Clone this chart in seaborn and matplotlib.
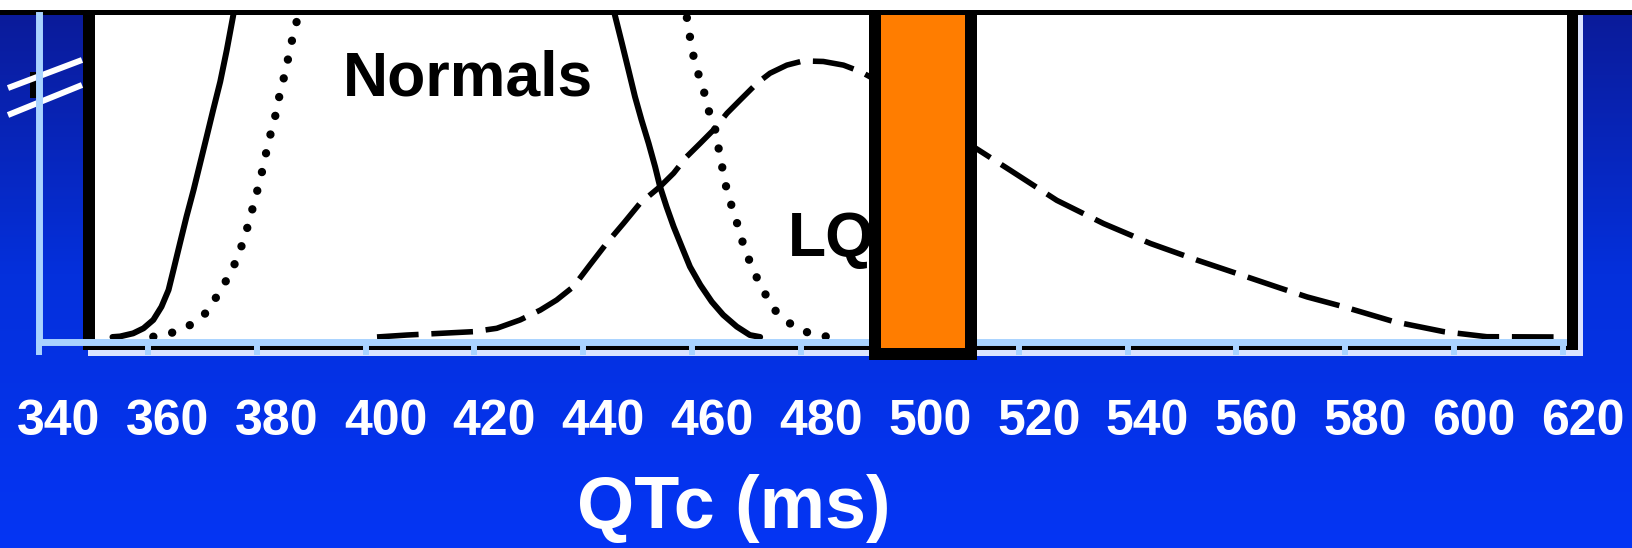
import matplotlib
matplotlib.use("Agg")
import numpy as np
import matplotlib.pyplot as plt
import matplotlib.transforms as mtransforms
from matplotlib.patches import Rectangle
from matplotlib.colors import LinearSegmentedColormap
import seaborn as sns

# QTc distributions, heights in arbitrary units (normals run off the top, axis is broken)
SOLID_X = [353.5, 354.9, 357.3, 359.2, 361.0, 362.5, 363.8, 364.7, 365.9, 367.1, 368.4, 369.6,
           370.8, 372.0, 373.3, 374.5, 375.7, 378.0, 410.0, 442.0,
           445.8, 447.1, 448.3, 449.5, 450.7, 452.0, 453.2, 454.1, 455.3, 456.6, 458.1, 459.6,
           461.5, 463.6, 465.7, 468.2, 470.6, 472.5]
SOLID_Y = [0.0, 0.002, 0.013, 0.031, 0.061, 0.108, 0.168, 0.239, 0.335, 0.430, 0.525, 0.620,
           0.715, 0.811, 0.912, 1.025, 1.15, 1.40, 3.50, 1.48,
           1.15, 1.049, 0.954, 0.858, 0.775, 0.692, 0.608, 0.537, 0.465, 0.394, 0.322, 0.251,
           0.186, 0.126, 0.079, 0.037, 0.007, 0.0]

DOTTED_X = [361.0, 365.3, 368.4, 370.9, 373.0, 374.8, 376.3, 377.6, 378.6, 379.4, 380.3, 381.2,
            381.9, 382.8, 383.7, 384.3, 385.2, 385.9, 386.7, 387.5, 390.0, 420.0, 456.0,
            459.0, 459.6, 460.2, 461.1, 462.1, 463.0, 464.2, 464.8, 465.4, 466.0, 466.9, 467.9,
            468.8, 469.7, 471.0, 472.2, 473.7, 475.2, 477.1, 479.2, 481.7, 484.1, 485.5]
DOTTED_Y = [0.001, 0.019, 0.049, 0.090, 0.156, 0.215, 0.275, 0.346, 0.412, 0.471, 0.537, 0.608,
            0.674, 0.745, 0.811, 0.876, 0.941, 1.007, 1.079, 1.138, 1.38, 3.00, 1.40,
            1.144, 1.072, 1.007, 0.942, 0.882, 0.811, 0.745, 0.680, 0.620, 0.555, 0.489, 0.430,
            0.370, 0.311, 0.251, 0.198, 0.144, 0.096, 0.061, 0.031, 0.013, 0.003, 0.0]

LQ_X = [402.1, 407.6, 413.7, 419.8, 424.1, 428.4, 432.1, 435.1, 438.2, 441.2, 444.3, 447.4,
        450.4, 454.1, 456.6, 459.0, 461.5, 463.9, 466.4, 468.8, 471.9, 474.3, 477.4, 480.4,
        484.1, 487.8, 490.9, 492.7, 501.9, 512.6, 518.4, 527.0, 535.6, 544.2, 552.7, 561.9,
        568.0, 573.0, 579.7, 588.9, 598.1, 606.0, 619.5]
LQ_Y = [0.0, 0.007, 0.013, 0.019, 0.031, 0.061, 0.096, 0.132, 0.180, 0.257, 0.335, 0.406,
        0.477, 0.537, 0.585, 0.644, 0.692, 0.739, 0.799, 0.846, 0.906, 0.942, 0.971, 0.986,
        0.984, 0.971, 0.948, 0.929, 0.80, 0.668, 0.596, 0.488, 0.405, 0.334, 0.275, 0.215,
        0.175, 0.143, 0.108, 0.055, 0.019, 0.001, 0.0]

CUTOFF_RANGE = (492.5, 512.3)
TICKS = [340, 360, 380, 400, 420, 440, 460, 480, 500, 520, 540, 560, 580, 600, 620]
TICK_LABELS = ['340', '360', '380', '400', '420', '440', '460', '480', '500',
               '520', '540', '560', '580', '600', '620']

W, H = 1633, 548
AXIS_BLUE = '#A9D3FF'
ORANGE = '#FF7D00'

sns.set_style('white')
plt.rcParams['font.family'] = ['Liberation Sans', 'DejaVu Sans']
plt.rcParams['font.weight'] = 'bold'

fig = plt.figure(figsize=(W / 100, H / 100), dpi=100)

# background slide, pixel coordinates from top-left
bg = fig.add_axes([0, 0, 1, 1])
bg.set_xlim(0, W)
bg.set_ylim(H, 0)
bg.axis('off')
grad = LinearSegmentedColormap.from_list('slide', ['#0B1A96', '#0430DC', '#0535F4'])
bg.imshow(np.linspace(0, 1, 256).reshape(-1, 1), cmap=grad, extent=[0, W, H, 0], aspect='auto', zorder=0)


def box(x0, y0, x1, y1, color, z):
    bg.add_patch(Rectangle((x0, y0), x1 - x0, y1 - y0, facecolor=color, edgecolor='none', zorder=z))


box(0, 0, W, 10, 'white', 1)
box(88, 15, 1583, 356, '#DCE4FF', 1)
box(83, 10, 1578, 350, 'black', 2)
box(95, 15, 1567, 345, 'white', 3)
box(0, 10, W, 15, 'black', 4)
box(30, 72, 40, 98, 'black', 4)
bg.plot([8, 82], [88, 60], color='white', lw=4.3, solid_capstyle='butt', zorder=5)
bg.plot([8, 82], [115, 85], color='white', lw=4.3, solid_capstyle='butt', zorder=5)

# main plot area
ax = fig.add_axes([39 / W, 1 - 341.5 / H, (1563 - 39) / W, 326.5 / H])
ax.set_facecolor('none')
ax.patch.set_alpha(0)

sns.lineplot(x=SOLID_X, y=SOLID_Y, ax=ax, color='black', linewidth=4.3, errorbar=None,
             solid_joinstyle='round', zorder=3)
sns.lineplot(x=DOTTED_X, y=DOTTED_Y, ax=ax, color='black', linewidth=6.0, errorbar=None,
             linestyle=(0, (0.01, 2.3)), dash_capstyle='round', zorder=3)
sns.lineplot(x=LQ_X, y=LQ_Y, ax=ax, color='black', linewidth=4.0, errorbar=None,
             linestyle=(0, (7.5, 2.3)), dash_joinstyle='round', zorder=3)

ax.set_xlim(340, 620)
ax.set_ylim(-0.0161, 1.15)

# QTc cutoff bar, runs past the plot box
lo, hi = CUTOFF_RANGE
inset = 12 / 5.442
ax.axvspan(lo, hi, ymin=-0.057, ymax=1.015, color='black', lw=0, zorder=6, clip_on=False)
ax.axvspan(lo + inset, hi - inset, ymin=-0.020, ymax=1.0, color=ORANGE, lw=0, zorder=7, clip_on=False)

ax.text(395.9, 0.864, 'Normals', fontsize=45, fontweight='bold', color='black', ha='left', va='baseline', zorder=4)
ax.text(477.6, 0.29, 'LQ', fontsize=45, fontweight='bold', color='black', ha='left', va='baseline', zorder=4)

for side in ['top', 'right']:
    ax.spines[side].set_visible(False)
for side in ['left', 'bottom']:
    ax.spines[side].set_color(AXIS_BLUE)
    ax.spines[side].set_linewidth(5.0)
    ax.spines[side].set_zorder(5)

ax.set_yticks([])
ax.set_xticks(TICKS)
ax.set_xticklabels(TICK_LABELS)
ax.tick_params(axis='x', bottom=True, direction='out', length=9.7, width=4.3, color=AXIS_BLUE,
               labelcolor='white', labelsize=36, pad=32)
shift = mtransforms.ScaledTranslation(0.2, 0, fig.dpi_scale_trans)
for lab in ax.get_xticklabels():
    lab.set_fontweight('bold')
    lab.set_transform(lab.get_transform() + shift)
ax.set_xlabel('')
ax.set_ylabel('')

fig.text(734 / W, 1 - 528 / H, 'QTc (ms)', fontsize=53, fontweight='bold', color='white',
         ha='center', va='baseline')

fig.savefig('out.png', dpi=100)
